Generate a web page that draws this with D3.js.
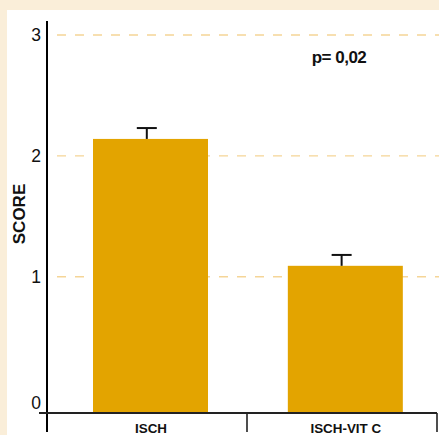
<!DOCTYPE html>
<html>
<head>
<meta charset="utf-8">
<script src="https://cdn.jsdelivr.net/npm/d3@7"></script>
<style>
  html, body { margin: 0; padding: 0; background: #faeed9; }
  svg { display: block; }
</style>
</head>
<body>
<svg id="chart" width="439" height="435"></svg>
<script>
// Mean score per group, with standard error
const categories = ["ISCH", "ISCH-VIT C"];
const scores = [2.14, 1.09];
const errors = [0.09, 0.09];
const yTicks = [0, 1, 2, 3];
const yTitle = "SCORE";
const pLabel = "p= 0,02";

const svg = d3.select("#chart");
const W = 439, H = 435;
const font = "Liberation Sans, Arial, sans-serif";

// white plotting panel on the cream page
svg.append("rect").attr("x", 7).attr("y", 10).attr("width", W - 7).attr("height", H - 10).attr("fill", "#ffffff");

// value scale; the category axis sits a little below zero
const y = d3.scaleLinear().domain([-0.128, 3]).range([413, 35]);
// category index -> pixel, boundaries of the two category cells
const x = d3.scaleLinear().domain([0, 1, 2]).range([47, 247, 437]);
const barW = 115;

// dashed horizontal grid lines
svg.append("g")
  .selectAll("line")
  .data(yTicks.filter(t => t > 0))
  .join("line")
  .attr("x1", 57).attr("x2", W)
  .attr("y1", d => y(d)).attr("y2", d => y(d))
  .attr("stroke", "#f5d597").attr("stroke-width", 1.4)
  .attr("stroke-dasharray", "9,9");

// bars
svg.append("g")
  .selectAll("rect")
  .data(scores)
  .join("rect")
  .attr("x", (d, i) => x(i + 0.5175) - barW / 2)
  .attr("width", barW)
  .attr("y", d => y(d))
  .attr("height", d => y.range()[0] - y(d))
  .attr("fill", "#e3a400");

// error bars (upper half only)
const eb = svg.append("g").attr("stroke", "#111").attr("stroke-width", 2);
scores.forEach((v, i) => {
  const cx = x(i + 0.5175) - 3.7;
  eb.append("line").attr("x1", cx).attr("x2", cx).attr("y1", y(v)).attr("y2", y(v + errors[i]));
  eb.append("line").attr("x1", cx - 10).attr("x2", cx + 10).attr("y1", y(v + errors[i])).attr("y2", y(v + errors[i]));
});

// y axis
const yAxis = d3.axisLeft(y).tickValues(yTicks).tickSize(0).tickPadding(6).tickFormat(d3.format("d"));
const gy = svg.append("g").attr("transform", "translate(47,0)").call(yAxis);
gy.select(".domain").remove();
gy.append("line").attr("x1", 0).attr("x2", 0).attr("y1", 21).attr("y2", 432).attr("stroke", "#000").attr("stroke-width", 2);
gy.selectAll(".tick text")
  .attr("font-family", font)
  .attr("font-size", 17.5).attr("fill", "#111")
  .attr("dy", (d) => d === 0 ? "0.6em" : "0.32em");

// x axis: baseline plus cell dividers
const gx = svg.append("g");
gx.append("line").attr("x1", 39).attr("x2", 437).attr("y1", 413).attr("y2", 413).attr("stroke", "#222").attr("stroke-width", 2);
gx.selectAll("line.div")
  .data([1, 2])
  .join("line").attr("class", "div")
  .attr("x1", d => x(d)).attr("x2", d => x(d))
  .attr("y1", 413).attr("y2", 432)
  .attr("stroke", "#222").attr("stroke-width", 1.6);
gx.selectAll("text")
  .data(categories)
  .join("text")
  .attr("x", (d, i) => x(i + 0.52))
  .attr("y", 433)
  .attr("text-anchor", "middle")
  .attr("font-family", font)
  .attr("font-weight", "bold").attr("font-size", 13.4)
  .attr("fill", "#111")
  .text(d => d);

// axis title
svg.append("text")
  .attr("transform", "translate(25,214) rotate(-90)")
  .attr("text-anchor", "middle")
  .attr("font-family", font)
  .attr("font-weight", "bold").attr("font-size", 17)
  .attr("fill", "#111")
  .text(yTitle);

// significance note
svg.append("text")
  .attr("x", 339).attr("y", 63)
  .attr("text-anchor", "middle")
  .attr("font-family", font)
  .attr("font-weight", "bold").attr("font-size", 17)
  .attr("letter-spacing", -0.5)
  .attr("fill", "#111")
  .text(pLabel);
</script>
</body>
</html>
